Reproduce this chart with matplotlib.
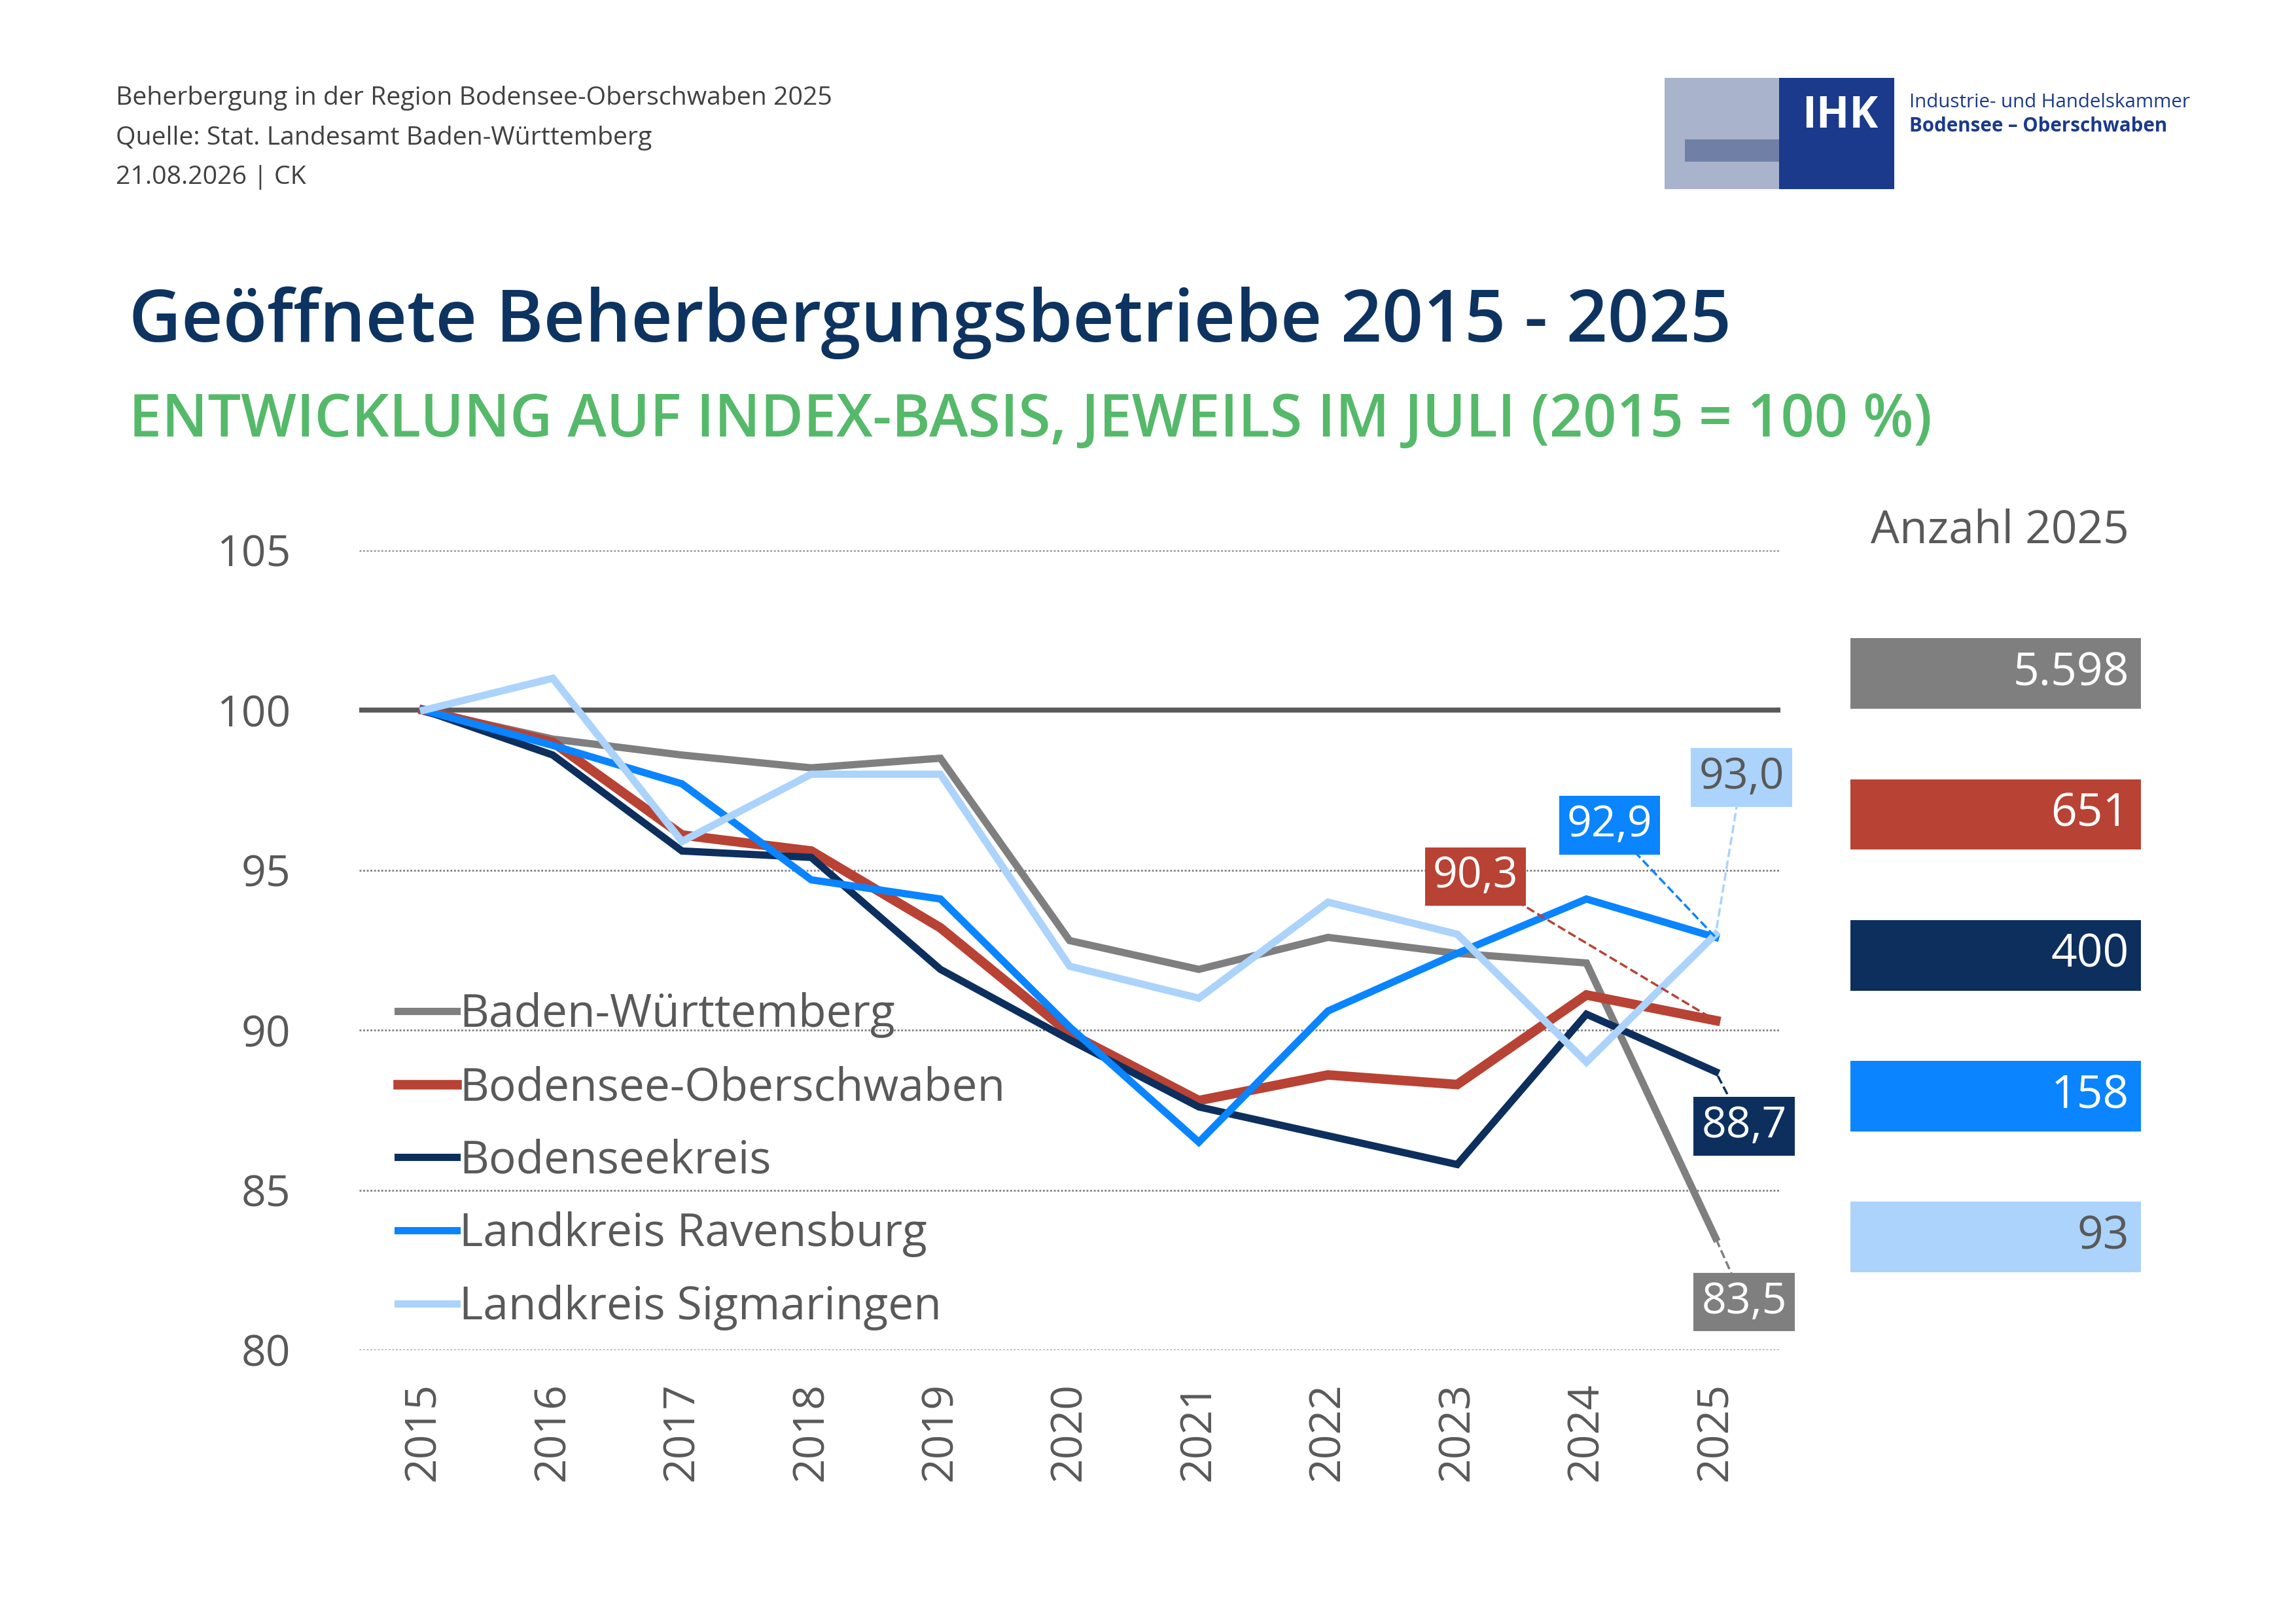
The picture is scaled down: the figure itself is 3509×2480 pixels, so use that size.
import matplotlib
matplotlib.use("Agg")
import matplotlib.pyplot as plt
from matplotlib.patches import Rectangle

plt.rcParams['font.family'] = ['Open Sans', 'DejaVu Sans']

years = [2015, 2016, 2017, 2018, 2019, 2020, 2021, 2022, 2023, 2024, 2025]
series_names = ["Baden-Württemberg", "Bodensee-Oberschwaben", "Bodenseekreis",
                "Landkreis Ravensburg", "Landkreis Sigmaringen"]
bw = [100, 99.1, 98.6, 98.2, 98.5, 92.8, 91.9, 92.9, 92.4, 92.1, 83.5]
bo = [100, 99.0, 96.1, 95.6, 93.2, 89.9, 87.8, 88.6, 88.3, 91.1, 90.3]
bk = [100, 98.6, 95.6, 95.4, 91.9, 89.7, 87.6, 86.7, 85.8, 90.5, 88.7]
rv = [100, 98.9, 97.7, 94.7, 94.1, 90.1, 86.5, 90.6, 92.4, 94.1, 92.9]
sig = [100, 101.0, 95.9, 98.0, 98.0, 92.0, 91.0, 94.0, 93.0, 89.0, 93.0]
counts_2025 = ["5.598", "651", "400", "158", "93"]
end_labels = ["83,5", "90,3", "88,7", "92,9", "93,0"]

colors = ["#7f7f7f", "#b84234", "#0c2f5e", "#0a84ff", "#abd3fb"]
textcols = ["white", "white", "white", "white", "#595959"]
widths = [3.2, 4.2, 3.2, 3.2, 3.2]

W, H = 3509, 2480
fig = plt.figure(figsize=(W/250, H/250), dpi=250)
sx = 1/1567; sy = 1/1106
def fx(x): return x*sx
def fy(y): return 1 - y*sy

ax = fig.add_axes([fx(245), fy(920), fx(1215)-fx(245), fy(375)-fy(920)])
ax.set_xlim(2014.5, 2025.5)
ax.set_ylim(80, 105)
for v in [80, 85, 90, 95, 105]:
    ax.axhline(v, color="#7f7f7f", lw=0.8, ls=(0, (1, 1)), zorder=0)
ax.axhline(100, color="#595959", lw=2.2, zorder=1)
data = [bw, bo, bk, rv, sig]
for i in range(5):
    ax.plot(years, data[i], color=colors[i], lw=widths[i], label=series_names[i],
            solid_joinstyle="miter", zorder=3+i)
for s in ax.spines.values():
    s.set_visible(False)
ax.set_xticks(years)
ax.set_xticklabels([str(y) for y in years], rotation=90, fontsize=19, color="#595959")
ax.set_yticks([80, 85, 90, 95, 100, 105])
ax.set_yticklabels(["80", "85", "90", "95", "100", "105"], fontsize=19, color="#595959")
ax.tick_params(length=0, pad=14)
ax.tick_params(axis='y', pad=30)

leg = ax.legend(loc="upper left", bbox_to_anchor=(0.005, 0.487), frameon=False, fontsize=20,
                handlelength=1.3, handletextpad=0.05, labelspacing=0.6, borderaxespad=0.3)
for t in leg.get_texts():
    t.set_color("#595959")

lab_pos = [(2025.22, 81.5), (2023.14, 94.8), (2025.22, 87.0), (2024.18, 96.4), (2025.2, 97.9)]
for i, (lx, ly) in enumerate(lab_pos):
    ax.plot([lx, 2025], [ly, data[i][-1]], ls="--", lw=1, color=colors[i], zorder=9)
    ax.text(lx, ly, end_labels[i], fontsize=19, color=textcols[i], ha="center", va="center",
            zorder=10, bbox=dict(boxstyle="square,pad=0.18", fc=colors[i], ec="none"))

fig.text(fx(1365), fy(362), "Anzahl 2025", fontsize=20, color="#595959", ha="center", va="center")
for i, c in enumerate(counts_2025):
    yc = 459 + 96*i
    fig.patches.append(Rectangle((fx(1263), fy(yc+24)), fx(1461)-fx(1263), fy(yc-24)-fy(yc+24),
                                 transform=fig.transFigure, fc=colors[i], ec="none"))
    fig.text(fx(1453), fy(yc), c, fontsize=20, color=textcols[i], ha="right", va="center")

for j, t in enumerate(["Beherbergung in der Region Bodensee-Oberschwaben 2025",
                       "Quelle: Stat. Landesamt Baden-Württemberg", "21.08.2026 | CK"]):
    fig.text(fx(79), fy(67 + 27*j), t, fontsize=11.3, color="#404040", ha="left", va="center")
fig.text(fx(88), fy(220), "Geöffnete Beherbergungsbetriebe 2015 - 2025", fontsize=31.8,
         color="#0d3361", fontweight="semibold", ha="left", va="center")
fig.text(fx(88), fy(287), "ENTWICKLUNG AUF INDEX-BASIS, JEWEILS IM JULI (2015 = 100 %)", fontsize=25.8,
         color="#55b96a", fontweight="semibold", ha="left", va="center")

fig.patches.append(Rectangle((fx(1136), fy(129)), fx(1218)-fx(1136), fy(53)-fy(129),
                             transform=fig.transFigure, fc="#a9b3cc", ec="none"))
fig.patches.append(Rectangle((fx(1150), fy(110)), fx(1215)-fx(1150), fy(95)-fy(110),
                             transform=fig.transFigure, fc="#6f7fa6", ec="none"))
fig.patches.append(Rectangle((fx(1214), fy(129)), fx(1293)-fx(1214), fy(53)-fy(129),
                             transform=fig.transFigure, fc="#1b3a8c", ec="none"))
fig.text(fx(1256), fy(79), "IHK", fontsize=19, color="white", fontweight="bold", ha="center", va="center")
fig.text(fx(1303), fy(70), "Industrie- und Handelskammer", fontsize=8.5, color="#1b3a8c", ha="left", va="center")
fig.text(fx(1303), fy(86), "Bodensee – Oberschwaben", fontsize=8.5, color="#1b3a8c",
         fontweight="bold", ha="left", va="center")

fig.savefig("out.png", dpi=250, facecolor="white")
